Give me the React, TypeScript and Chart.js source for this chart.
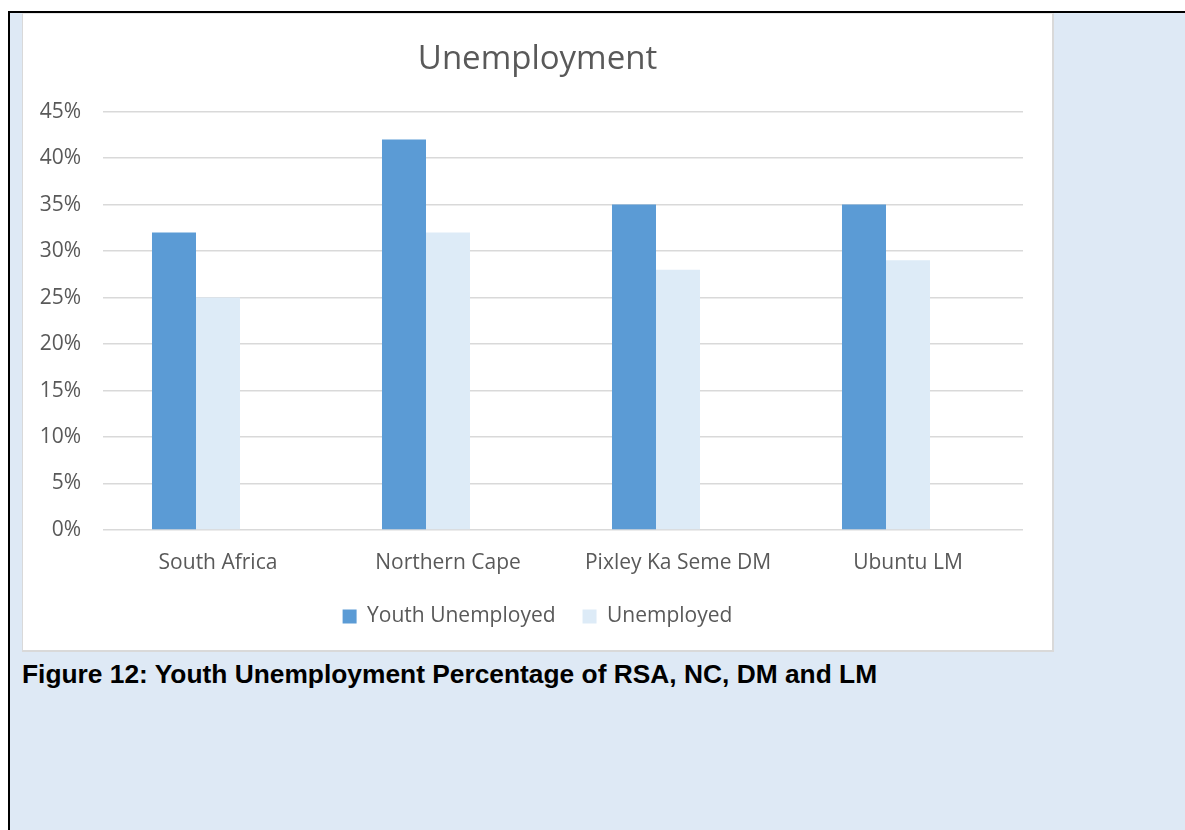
import React, { useEffect, useRef } from "react";
import { Chart, registerables } from "chart.js";

Chart.register(...registerables);

const categories = ["South Africa", "Northern Cape", "Pixley Ka Seme DM", "Ubuntu LM"];
const youthUnemployed = [32, 42, 35, 35];
const unemployed = [25, 32, 28, 29];
// third series of the source chart is empty (it only reserves a bar slot)
const emptySeries: (number | null)[] = [null, null, null, null];
const seriesNames = ["Youth Unemployed", "Unemployed", ""];
const chartTitle = "Unemployment";
const caption = "Figure 12: Youth Unemployment Percentage of RSA, NC, DM and LM";

const FONT = "'Open Sans', sans-serif";
const TEXT = "#595959";

function UnemploymentChart() {
  const ref = useRef<HTMLCanvasElement | null>(null);
  useEffect(() => {
    if (!ref.current) return;
    const chart = new Chart(ref.current, {
      type: "bar",
      data: {
        labels: categories,
        datasets: [
          {
            label: seriesNames[0],
            data: youthUnemployed,
            backgroundColor: "#5B9BD5",
            categoryPercentage: 0.574,
            barPercentage: 1,
          },
          {
            label: seriesNames[1],
            data: unemployed,
            backgroundColor: "#DDEBF7",
            categoryPercentage: 0.574,
            barPercentage: 1,
          },
          {
            label: seriesNames[2],
            data: emptySeries,
            backgroundColor: "#A5A5A5",
            categoryPercentage: 0.574,
            barPercentage: 1,
          },
        ],
      },
      options: {
        animation: false,
        responsive: false,
        maintainAspectRatio: false,
        layout: { padding: { left: -5, right: -5, top: 0, bottom: 13 } },
        plugins: {
          title: {
            display: true,
            text: chartTitle,
            color: TEXT,
            font: { family: FONT, size: 33, weight: "normal" },
            padding: { top: 26, bottom: 32 },
          },
          legend: {
            position: "bottom",
            labels: {
              boxWidth: 14,
              boxHeight: 14,
              padding: 27,
              color: TEXT,
              font: { family: FONT, size: 21 },
              filter: (item: any) => item.text !== "",
            },
          },
          tooltip: { enabled: false },
        },
        scales: {
          x: {
            grid: { display: false, drawTicks: false },
            border: { display: false },
            ticks: { color: TEXT, font: { family: FONT, size: 21 }, padding: 20 },
            afterFit: (scale: any) => {
              scale.height = 49;
            },
          },
          y: {
            min: 0,
            max: 45,
            grid: { color: "#d9d9d9", lineWidth: 1.5, drawTicks: false },
            border: { display: false },
            ticks: {
              stepSize: 5,
              color: TEXT,
              padding: 22,
              font: { family: FONT, size: 21 },
              callback: (v: any) => v + "%",
            },
            afterFit: (scale: any) => {
              scale.width = 85;
            },
          },
          yRightSpace: {
            position: "right",
            display: true,
            grid: { display: false, drawTicks: false },
            border: { display: false },
            ticks: { display: false },
            afterFit: (scale: any) => {
              scale.width = 34;
            },
          },
        },
      },
    });
    return () => chart.destroy();
  }, []);
  return <canvas ref={ref} width={1029} height={636} style={{ display: "block" }} />;
}

export default function App() {
  return (
    <div style={{ position: "absolute", left: 0, top: 0, width: 1185, height: 830, background: "#fff", overflow: "hidden" }}>
      <div
        style={{
          position: "absolute",
          left: 8,
          top: 11,
          width: 1185,
          height: 830,
          borderTop: "2px solid #000",
          borderLeft: "2px solid #000",
          background: "#DEE9F5",
        }}
      />
      <div
        style={{
          position: "absolute",
          left: 22,
          top: 13,
          width: 1029,
          height: 636,
          background: "#fff",
          borderLeft: "1px solid #d9d9d9",
          borderTop: "1px solid #e6e6e6",
          borderRight: "2px solid #d9d9d9",
          borderBottom: "2px solid #d9d9d9",
        }}
      >
        <UnemploymentChart />
      </div>
      <div
        style={{
          position: "absolute",
          left: 22,
          top: 656,
          fontFamily: "'Liberation Sans', Arial, sans-serif",
          fontWeight: "bold",
          fontSize: 26,
          color: "#000",
          whiteSpace: "nowrap",
          lineHeight: "36px",
          transformOrigin: "0 0",
          transform: "scaleX(1.013)",
        }}
      >
        {caption}
      </div>
    </div>
  );
}
